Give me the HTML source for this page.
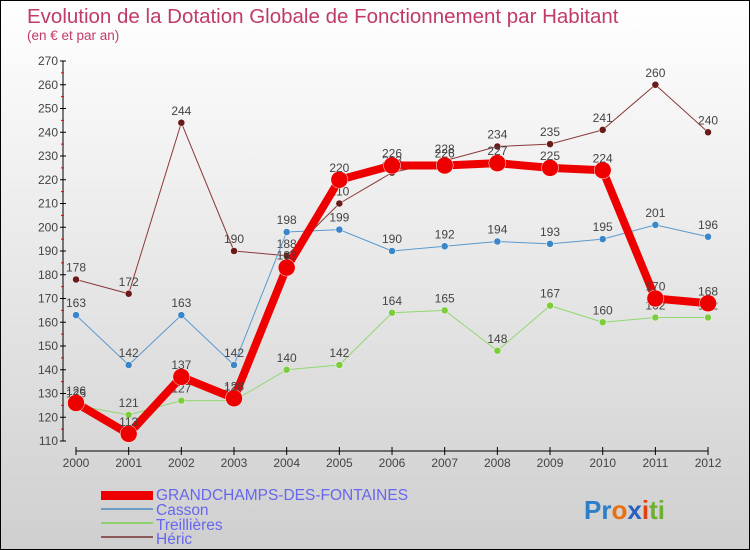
<!DOCTYPE html>
<html><head><meta charset="utf-8"><style>
body{margin:0}
#c{width:748px;height:548px;border:1px solid #000;background:linear-gradient(#fff,#cfcfcf);position:relative;font-family:"Liberation Sans",sans-serif}
</style></head><body>
<div id="c">
<svg width="748" height="548" id="s" style="position:absolute;left:0;top:0">
<text x="26" y="22" font-size="20.5" fill="#c03a6a">Evolution de la Dotation Globale de Fonctionnement par Habitant</text>
<text x="26" y="39" font-size="13.5" fill="#c03a6a">(en € et par an)</text>
<g id="axes"></g><g id="series"></g>
<g font-size="15.5" fill="#6666ee">
<rect x="100" y="490" width="52" height="9" fill="#ee0000"/>
<text x="155" y="499">GRANDCHAMPS-DES-FONTAINES</text>
<rect x="100" y="507" width="52" height="2" fill="#6a9ec8"/>
<text x="155" y="514">Casson</text>
<rect x="100" y="521" width="52" height="2" fill="#90d070"/>
<text x="155" y="529">Treillières</text>
<rect x="100" y="535" width="52" height="2" fill="#8a5a5a"/>
<text x="155" y="543">Héric</text>
</g>
<text x="583" y="518" font-size="26" font-weight="bold"><tspan fill="#2a7fc8">Pr</tspan><tspan fill="#e87010">o</tspan><tspan fill="#2a60c0">x</tspan><tspan fill="#e04010">i</tspan><tspan fill="#70b030">ti</tspan></text>
</svg>
</div>
<script>
const years=[2000,2001,2002,2003,2004,2005,2006,2007,2008,2009,2010,2011,2012];
const grand=[126,113,137,128,183,220,226,226,227,225,224,170,168];
const casson=[163,142,163,142,198,199,190,192,194,193,195,201,196];
const treill=[125,121,127,127,140,142,164,165,148,167,160,162,162];
const heric=[178,172,244,190,188,210,223,228,234,235,241,260,240];
const yTicks=[110,120,130,140,150,160,170,180,190,200,210,220,230,240,250,260,270];
const NS="http://www.w3.org/2000/svg";
const X=i=>75+i*52.67;
const Y=v=>60+(270-v)*2.375;
function mk(t,a,p){const e=document.createElementNS(NS,t);for(const k in a)e.setAttribute(k,a[k]);p.appendChild(e);return e;}
const ax=document.getElementById('axes');
let l=mk('line',{x1:62,y1:60,x2:62,y2:440,stroke:'#000'},ax);


yTicks.forEach(v=>{
 mk('line',{x1:59,y1:Y(v),x2:65,y2:Y(v),stroke:'#000'},ax);
 if(v<270) mk('line',{x1:60,y1:Y(v+5),x2:63,y2:Y(v+5),stroke:'#e00'},ax);
 const t=mk('text',{x:57,y:Y(v)+4,'font-size':12,'text-anchor':'end',fill:'#444'},ax);t.textContent=v;
 
 
});
l=mk('line',{x1:75,y1:450,x2:X(12),y2:450,stroke:'#000'},ax);


years.forEach((y,i)=>{
 mk('line',{x1:X(i),y1:446,x2:X(i),y2:454,stroke:'#000'},ax);
 const t=mk('text',{x:X(i),y:466,'font-size':12,'text-anchor':'middle',fill:'#444'},ax);t.textContent=y;
 
 
});
const sg=document.getElementById('series');
function draw(data,name,color,w,r,dot){
 const g=mk('g',{},sg);
 
 
 const p=mk('polyline',{points:data.map((v,i)=>X(i)+','+Y(v)).join(' '),fill:'none',stroke:color,'stroke-width':w,'stroke-linejoin':'round'},g);
 
 
 data.forEach((v,i)=>{
  const c=mk('circle',{cx:X(i),cy:Y(v),r:r,fill:dot,stroke:'#fff','stroke-width':0.5},g);
  
  
  const t=mk('text',{x:X(i),y:Y(v)-8,'font-size':12,'text-anchor':'middle',fill:'#444'},g);t.textContent=v;
  
  
 });
}
draw(heric,'heric','#8a3a3a',1,3.5,'#6a1a1a');
draw(casson,'casson','#5a9ad0',1,3.5,'#3a86c8');
draw(treill,'treillieres','#90d870',1,3.5,'#7ccc3c');
draw(grand,'grandchamps','#ee0000',8,8.5,'#ee0000');
</script>
</body></html>
